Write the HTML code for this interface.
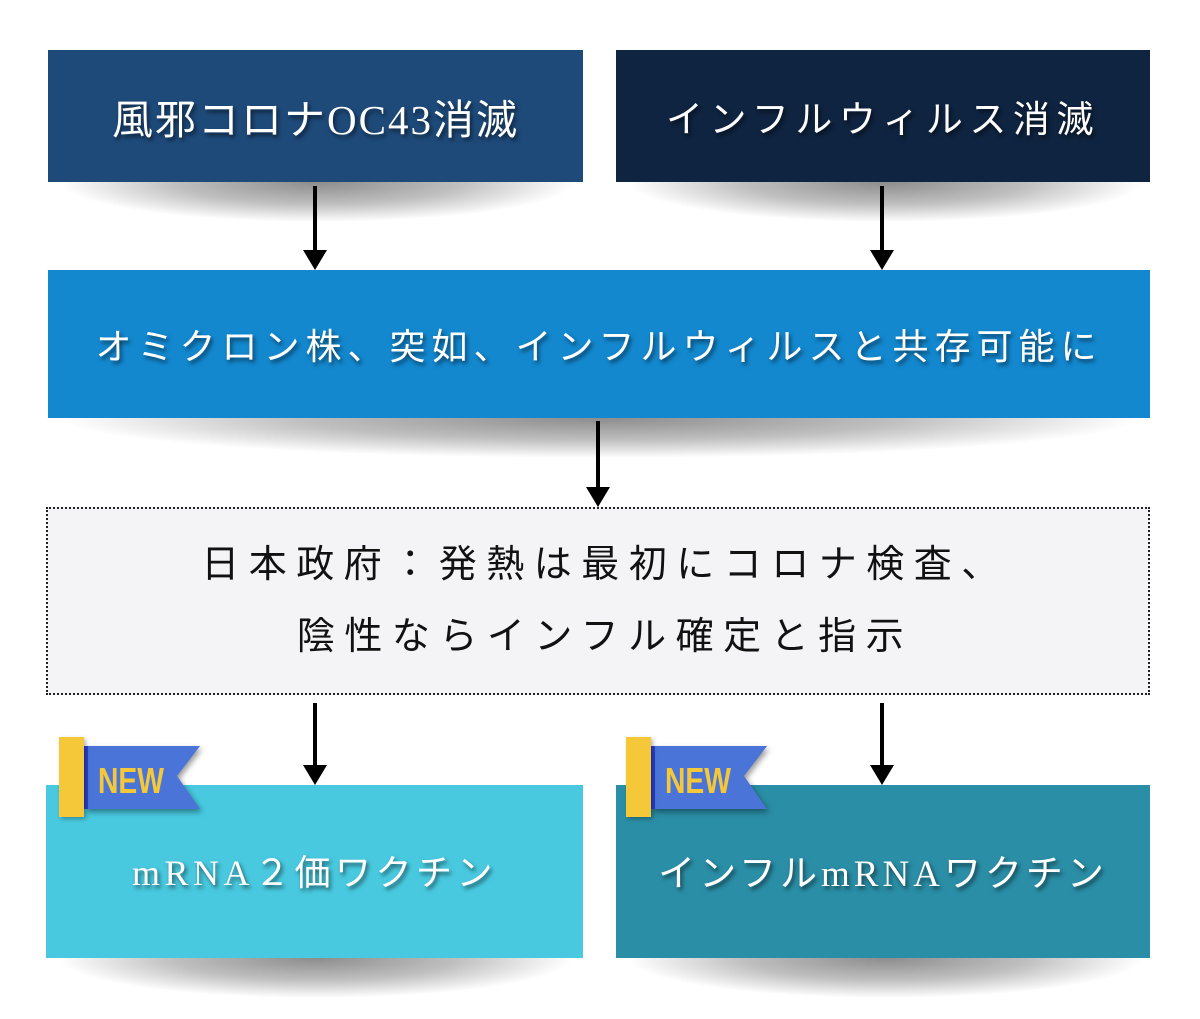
<!DOCTYPE html>
<html><head><meta charset="utf-8"><style>
body{margin:0;width:1200px;height:1019px;background:#fff;position:relative;overflow:hidden;font-family:"Liberation Serif","Noto Sans CJK JP",sans-serif}
.b{position:absolute;display:flex;align-items:center;justify-content:center;color:#fff;text-shadow:2px 3px 4px rgba(0,0,0,.55);white-space:nowrap}
.sh{position:absolute;height:40px;background:radial-gradient(ellipse 50% 100% at 50% 0%,rgba(0,0,0,.45),rgba(0,0,0,.25) 55%,rgba(0,0,0,0) 100%)}
.ar{position:absolute;width:4px;background:#000}
.ah{position:absolute;width:0;height:0;border-left:12px solid transparent;border-right:12px solid transparent;border-top:20px solid #000}
.new{position:absolute}
</style></head><body>
<div class="sh" style="left:60px;top:182px;width:515px"></div>
<div class="sh" style="left:628px;top:182px;width:515px"></div>
<div class="sh" style="left:60px;top:418px;width:1080px"></div>
<div class="sh" style="left:58px;top:958px;width:515px"></div>
<div class="sh" style="left:628px;top:958px;width:515px"></div>

<div class="b" style="left:48px;top:50px;width:535px;height:132px;background:#1e4a7a;font-size:41px;letter-spacing:2px">風邪コロナOC43消滅</div>
<div class="b" style="left:616px;top:50px;width:534px;height:132px;background:#0f2440;font-size:37px;letter-spacing:6.5px">インフルウィルス消滅</div>
<div class="b" style="left:48px;top:270px;width:1102px;height:148px;background:#1388cf;font-size:36px;letter-spacing:6px">オミクロン株、突如、インフルウィルスと共存可能に</div>
<div class="b" style="left:46px;top:507px;width:1100px;height:184px;background:#f4f3f6;border:2px dotted #222;color:#111;text-shadow:none;font-size:38px;letter-spacing:9.5px;flex-direction:column;line-height:72px">
<div style="padding-left:14px">日本政府：発熱は最初にコロナ検査、</div><div style="padding-left:14px">陰性ならインフル確定と指示</div></div>
<div class="b" style="left:46px;top:785px;width:537px;height:173px;background:#48c9df;font-size:36px;letter-spacing:4.5px;padding-bottom:4px;box-sizing:border-box">mRNA２価ワクチン</div>
<div class="b" style="left:616px;top:785px;width:534px;height:173px;background:#2a8ea6;font-size:37px;letter-spacing:4px;padding-bottom:4px;box-sizing:border-box">インフルmRNAワクチン</div>

<div class="ar" style="left:313px;top:186px;height:66px"></div><div class="ah" style="left:303px;top:250px"></div>
<div class="ar" style="left:880px;top:186px;height:66px"></div><div class="ah" style="left:870px;top:250px"></div>
<div class="ar" style="left:596px;top:421px;height:68px"></div><div class="ah" style="left:586px;top:487px"></div>
<div class="ar" style="left:313px;top:703px;height:64px"></div><div class="ah" style="left:303px;top:765px"></div>
<div class="ar" style="left:880px;top:703px;height:64px"></div><div class="ah" style="left:870px;top:765px"></div>

<svg class="new" style="left:55px;top:734px" width="160" height="90">
<polygon points="30,12 145,12 122,42 145,75 30,75" fill="#4a74d8" style="filter:drop-shadow(2px 3px 3px rgba(0,0,0,.4))"/>
<rect x="29" y="12" width="4" height="63" fill="#2a3fd0"/>
<rect x="4" y="3" width="25" height="80" fill="#f5c83a" style="filter:drop-shadow(2px 2px 2px rgba(0,0,0,.3))"/>
<text x="43" y="59" font-family="Liberation Sans Narrow,Liberation Sans,sans-serif" font-weight="bold" font-size="36" fill="#f5c83a" textLength="66" lengthAdjust="spacingAndGlyphs">NEW</text>
</svg>
<svg class="new" style="left:622px;top:734px" width="160" height="90">
<polygon points="30,12 145,12 122,42 145,75 30,75" fill="#4a74d8" style="filter:drop-shadow(2px 3px 3px rgba(0,0,0,.4))"/>
<rect x="29" y="12" width="4" height="63" fill="#2a3fd0"/>
<rect x="4" y="3" width="25" height="80" fill="#f5c83a" style="filter:drop-shadow(2px 2px 2px rgba(0,0,0,.3))"/>
<text x="43" y="59" font-family="Liberation Sans Narrow,Liberation Sans,sans-serif" font-weight="bold" font-size="36" fill="#f5c83a" textLength="66" lengthAdjust="spacingAndGlyphs">NEW</text>
</svg>
</body></html>
